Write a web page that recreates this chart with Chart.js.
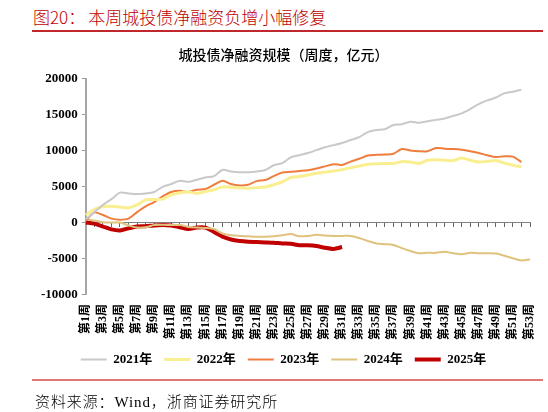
<!DOCTYPE html>
<html>
<head>
<meta charset="utf-8">
<script src="https://cdn.jsdelivr.net/npm/chart.js@4"></script>
<style>
  body { margin: 0; background: #fff; }
  #wrap { position: relative; width: 548px; height: 412px; overflow: hidden; }
  #chart { position: absolute; left: 0; top: 0; }
  .head { position: absolute; left: 33px; top: 4px; font: 300 17px "Noto Sans CJK SC", serif; color: #c00000; white-space: nowrap; }
  .head span { margin-left: 3px; }
  .rule { position: absolute; left: 32px; width: 511px; height: 2px; }
  .foot { position: absolute; left: 35px; top: 390px; font: 300 15px "Liberation Serif", "Noto Sans CJK SC", serif; letter-spacing: 0.9px; color: #000; white-space: nowrap; }
</style>
</head>
<body>
<div id="wrap">
  <div class="head">图20：<span>本周城投债净融资负增小幅修复</span></div>
  <div class="rule" style="top:30px;background:#c0282d;height:1.5px"></div>
  <canvas id="chart" width="548" height="412"></canvas>
  <div class="rule" style="top:379px;background:#e07777"></div>
  <div class="foot">资料来源：Wind，浙商证券研究所</div>
</div>
<script>
var weeks = [];
for (var i = 1; i <= 53; i++) weeks.push("第" + i + "周");

var yr2021 = [500,1500,2500,3300,4200,4100,4000,4100,4300,5000,5400,5850,5700,6000,6300,6500,7350,7150,7050,7050,7150,7350,8000,8300,9100,9400,9700,10100,10500,10800,11100,11500,11900,12600,12900,13000,13600,13700,14050,13900,14100,14300,14500,14850,15200,15800,16500,17000,17400,18000,18200,18500];
var yr2022 = [1100,1900,2250,2300,2200,2100,2500,3200,3250,3300,3900,4200,4300,4100,4350,4600,5000,4950,4850,4800,4900,5000,5300,5700,6300,6450,6650,6900,7050,7200,7400,7650,7900,8150,8200,8250,8250,8500,8450,8250,8700,8760,8700,8650,9000,8700,8450,8550,8650,8300,8000,7800];
var yr2023 = [300,1450,1100,600,450,600,1500,2300,2900,3700,4300,4450,4300,4600,4700,5300,5850,5400,5200,5300,5800,5950,6500,7000,7100,7200,7300,7550,7850,8150,8050,8500,8900,9350,9450,9500,9600,10250,10050,9950,9950,10400,10300,10250,10150,9950,9700,9400,9150,9250,9200,8450];
var yr2024 = [500,350,100,50,50,-350,-650,-600,-300,-250,-300,-300,-550,-650,-700,-850,-1450,-1700,-1800,-1850,-1900,-1900,-1850,-1700,-1550,-1850,-1800,-1650,-1750,-1800,-1800,-1800,-2100,-2500,-2850,-2950,-3050,-3500,-3900,-4200,-4150,-4150,-4000,-4200,-4350,-4150,-4200,-4200,-4250,-4550,-4900,-5200,-5050];
var yr2025 = [50,-100,-500,-900,-1050,-750,-500,-450,-350,-300,-350,-600,-850,-650,-650,-1250,-1900,-2300,-2500,-2600,-2650,-2700,-2750,-2850,-2900,-3100,-3100,-3200,-3450,-3600,-3350];

var serif = "'Liberation Serif', 'Noto Sans CJK SC', serif";

function line(label, data, color, width) {
  return {
    label: label,
    data: data,
    borderColor: color,
    backgroundColor: color,
    borderWidth: width,
    pointRadius: 0,
    tension: 0.3,
    fill: false
  };
}

new Chart("chart", {
  type: "line",
  data: {
    labels: weeks,
    datasets: [
      line("2021年", yr2021, "#c9c9c9", 2),
      line("2022年", yr2022, "#f9ef90", 3),
      line("2023年", yr2023, "#ee7d3e", 2),
      line("2024年", yr2024, "#dfc27c", 2),
      line("2025年", yr2025, "#c00000", 4)
    ]
  },
  options: {
    responsive: false,
    animation: false,
    layout: { padding: { top: 38, left: 37, right: 18, bottom: 36 } },
    plugins: {
      title: {
        display: true,
        text: "城投债净融资规模（周度，亿元）",
        color: "#000",
        font: { family: "'Noto Sans CJK SC'", size: 14, weight: "500" },
        padding: { top: 8, bottom: 16 }
      },
      legend: {
        position: "bottom",
        labels: {
          usePointStyle: true,
          pointStyle: "line",
          pointStyleWidth: 26,
          color: "#000",
          padding: 12,
          font: { family: serif, size: 13, weight: "bold" }
        }
      },
      tooltip: { enabled: false }
    },
    scales: {
      x: {
        position: { y: 0 },
        grid: { display: true, drawOnChartArea: false, drawTicks: true, tickLength: 4, color: "#666" },
        border: { display: true, color: "#808080", width: 1 },
        ticks: { display: false, autoSkip: false }
      },
      x2: {
        type: "category",
        labels: weeks,
        position: "bottom",
        grid: { display: false },
        border: { display: false },
        ticks: {
          autoSkip: false,
          minRotation: 90,
          maxRotation: 90,
          padding: 1,
          color: "#000",
          font: { family: serif, size: 12, weight: "bold" },
          callback: function (v, i) { return i % 2 === 0 ? weeks[i] : ""; }
        }
      },
      y: {
        min: -10000,
        max: 20000,
        grid: { display: true, drawOnChartArea: false, drawTicks: true, tickLength: 4, color: "#999" },
        border: { display: true, color: "#a6a6a6", width: 2 },
        ticks: {
          stepSize: 5000,
          padding: 4,
          color: "#000",
          font: { family: serif, size: 13, weight: "bold" },
          callback: function (v) { return String(v); }
        }
      }
    }
  }
});
</script>
</body>
</html>
